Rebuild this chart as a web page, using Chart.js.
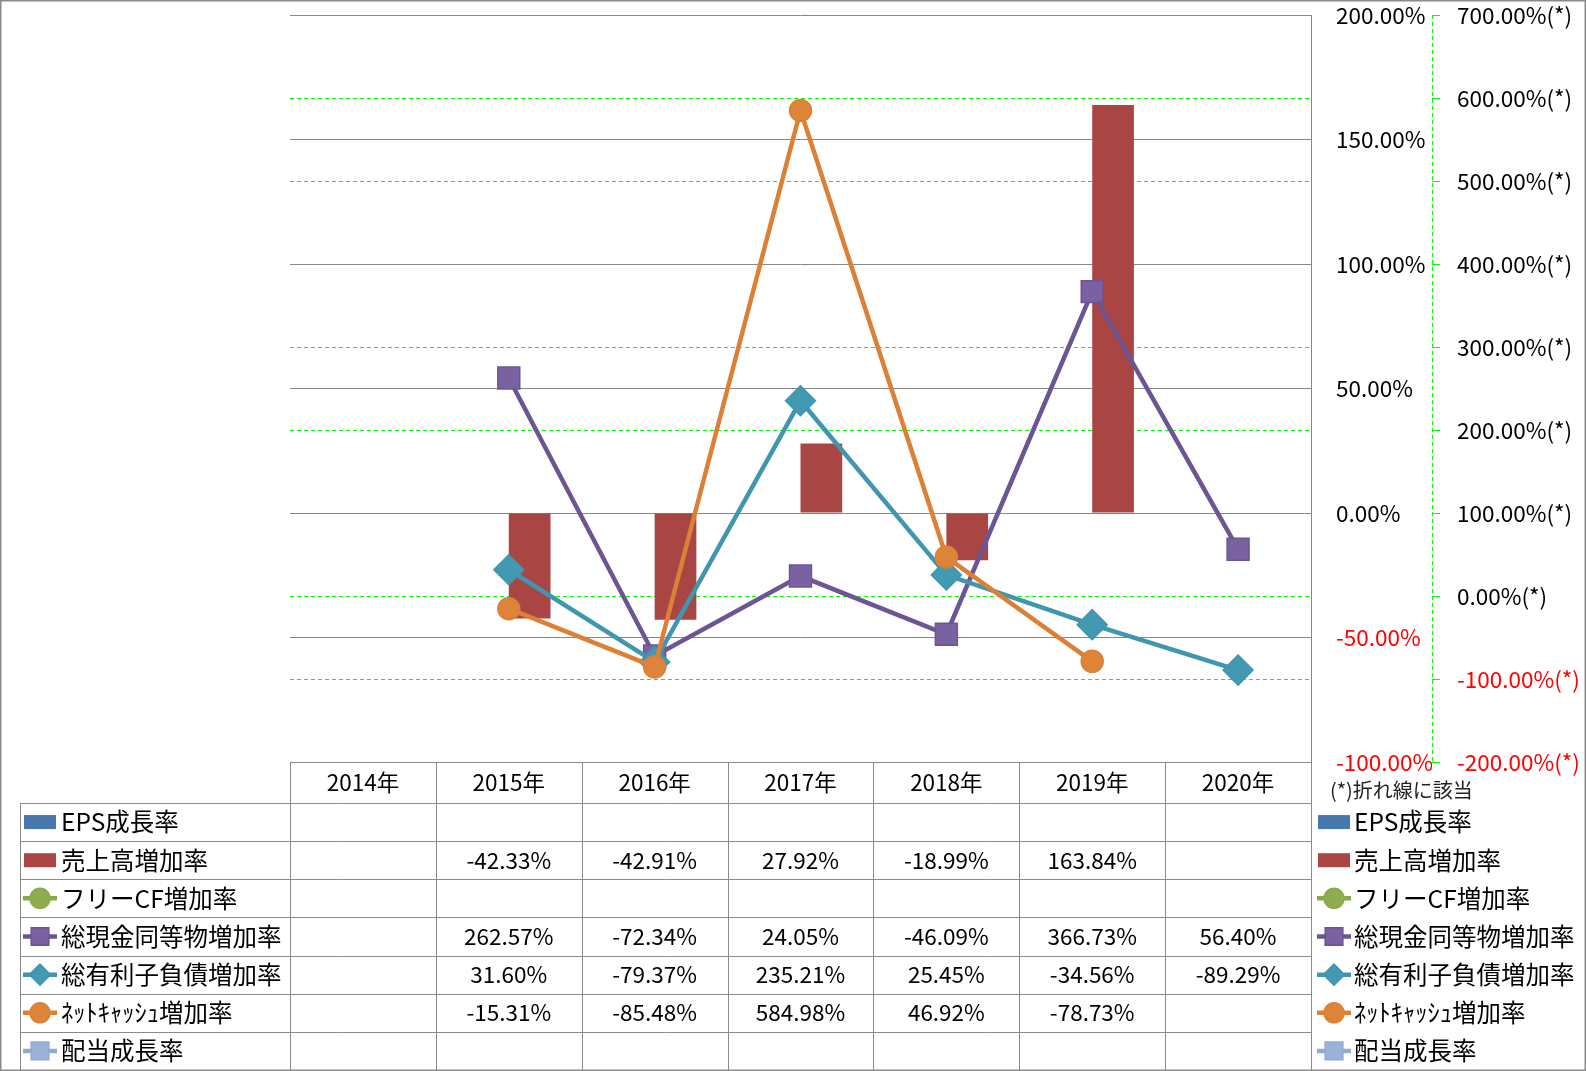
<!DOCTYPE html>
<html>
<head>
<meta charset="utf-8">
<script src="https://cdn.jsdelivr.net/npm/chart.js@4.4.1/dist/chart.umd.min.js"></script>
<style>
html,body{margin:0;padding:0;background:#fff;overflow:hidden}
#wrap{width:1586px;height:1071px;position:relative}
canvas{display:block}
</style>
</head>
<body>
<div id="wrap"><canvas id="c" width="1586" height="1071" style="width:1586px;height:1071px"></canvas></div>
<script>
// ---- data ----
const categories = ['2014年','2015年','2016年','2017年','2018年','2019年','2020年'];
const seriesNames = ['EPS成長率','売上高増加率','フリーCF増加率','総現金同等物増加率','総有利子負債増加率','ﾈｯﾄｷｬｯｼｭ増加率','配当成長率'];
const epsGrowth      = [null, null, null, null, null, null, null];
const salesGrowth    = [null, -42.33, -42.91, 27.92, -18.99, 163.84, null];
const freeCFGrowth   = [null, null, null, null, null, null, null];
const cashGrowth     = [null, 262.57, -72.34, 24.05, -46.09, 366.73, 56.40];
const debtGrowth     = [null, 31.60, -79.37, 235.21, 25.45, -34.56, -89.29];
const netCashGrowth  = [null, -15.31, -85.48, 584.98, 46.92, -78.73, null];
const dividendGrowth = [null, null, null, null, null, null, null];
const primaryAxis   = [-100, 200, 50];   // min, max, step (bars)
const secondaryAxis = [-200, 700, 100];  // min, max, step (lines, "(*)")
const noteText = '(*)折れ線に該当';

// ---- style ----
const FONT = '"Noto Sans CJK JP", "Liberation Sans", sans-serif';
const FS_NUM = 22.5;
const FS_LABEL = 24.5;
const GRID_GRAY = '#868686';
const TABLE_GRAY = '#8a8a8a';

function lineDs(label, data, color, fill, style, r, order) {
  return {type:'line', label, data, yAxisID:'y2', order,
    borderColor:color, backgroundColor:color, borderWidth:4.5, tension:0, spanGaps:false,
    pointStyle:style, pointRadius:r, pointHoverRadius:r,
    pointBackgroundColor:fill, pointBorderColor:color, pointBorderWidth:1.5};
}

const datasets = [
  {type:'bar', label:seriesNames[0], data:epsGrowth, yAxisID:'y', order:20,
   backgroundColor:'#4677AD', barPercentage:1, categoryPercentage:0.572},
  {type:'bar', label:seriesNames[1], data:salesGrowth, yAxisID:'y', order:20,
   backgroundColor:'#A94644', barPercentage:1, categoryPercentage:0.572},
  lineDs(seriesNames[2], freeCFGrowth, '#8BA94B', '#8FAD4F', 'circle', 11, 6),
  lineDs(seriesNames[3], cashGrowth, '#6D5493', '#7A62A0', 'rect', 15.5, 5),
  lineDs(seriesNames[4], debtGrowth, '#3F96AE', '#4399B1', 'rectRot', 15, 4),
  lineDs(seriesNames[5], netCashGrowth, '#DB8036', '#DE8439', 'circle', 11, 3),
  lineDs(seriesNames[6], dividendGrowth, '#92AAD3', '#9AB1D8', 'rect', 15.5, 2)
];

const negRed = (ctx) => (ctx.tick && ctx.tick.value < 0) ? '#FF0000' : '#000000';

const tablePlugin = {
  id: 'tablePlugin',
  beforeDatasetsDraw(chart) {
    const {ctx} = chart;
    const y2 = chart.scales.y2;
    ctx.save();
    ctx.strokeStyle = '#00FF00';
    ctx.lineWidth = 1;
    ctx.setLineDash([4, 3]);
    ctx.beginPath();
    const lx = Math.round(y2.left) + 0.5;
    ctx.moveTo(lx, y2.top);
    ctx.lineTo(lx, y2.bottom);
    ctx.stroke();
    ctx.restore();
  },
  afterDraw(chart) {
    const {ctx, chartArea: area} = chart;
    const xs = chart.scales.x;
    const W = chart.width, H = chart.height;
    const nCol = categories.length;
    const colW = (area.right - area.left) / nCol;
    const headTop = area.bottom;
    const headBottom = xs.bottom;
    const rows = chart.data.datasets;
    const tableBottom = H - 1;
    const rowH = (tableBottom - headBottom) / rows.length;
    const legLeft = 20;
    const px = v => Math.round(v) + 0.5;

    ctx.save();
    ctx.strokeStyle = TABLE_GRAY;
    ctx.lineWidth = 1;
    ctx.setLineDash([]);
    ctx.beginPath();
    ctx.moveTo(area.left, px(headTop)); ctx.lineTo(area.right, px(headTop));
    for (let k = 0; k < rows.length; k++) {
      const yy = px(headBottom + k * rowH);
      ctx.moveTo(legLeft, yy); ctx.lineTo(area.right, yy);
    }
    for (let i = 0; i <= nCol; i++) {
      const xx = px(area.left + i * colW);
      ctx.moveTo(xx, headTop); ctx.lineTo(xx, tableBottom);
    }
    ctx.moveTo(px(legLeft), headBottom); ctx.lineTo(px(legLeft), tableBottom);
    ctx.stroke();

    // outer border
    ctx.lineWidth = 1.5;
    ctx.strokeStyle = '#8a8a8a';
    ctx.strokeRect(0.75, 0.75, W - 1.5, H - 1.5);

    // values
    ctx.fillStyle = '#000';
    ctx.font = FS_NUM + 'px ' + FONT;
    ctx.textAlign = 'center';
    ctx.textBaseline = 'middle';
    rows.forEach((ds, r) => {
      const cy = headBottom + r * rowH + rowH / 2;
      ds.data.forEach((v, j) => {
        if (v === null || v === undefined) return;
        ctx.fillText(v.toFixed(2) + '%', xs.getPixelForValue(j), cy);
      });
    });

    // legends (left column + right box)
    const drawSym = (ds, cx, cy) => {
      if (ds.type === 'bar') {
        ctx.fillStyle = ds.backgroundColor;
        ctx.fillRect(cx - 16, cy - 7, 32, 14);
      } else {
        ctx.strokeStyle = ds.borderColor;
        ctx.lineWidth = 4.5;
        ctx.beginPath();
        ctx.moveTo(cx - 17, cy); ctx.lineTo(cx + 17, cy);
        ctx.stroke();
        ctx.fillStyle = ds.pointBackgroundColor;
        ctx.strokeStyle = ds.pointBorderColor;
        ctx.lineWidth = 1.5;
        const rr = ds.pointStyle === 'rectRot' ? 10.5 : (ds.pointStyle === 'circle' ? 10 : 12.5);
        Chart.helpers.drawPoint(ctx, {pointStyle: ds.pointStyle, radius: rr, rotation: 0, borderWidth: 1.5}, cx, cy);
      }
    };
    rows.forEach((ds, r) => {
      const cy = headBottom + r * rowH + rowH / 2;
      drawSym(ds, 40, cy);
      drawSym(ds, 1334, cy);
      ctx.fillStyle = '#000';
      ctx.font = FS_LABEL + 'px ' + FONT;
      ctx.textAlign = 'left';
      ctx.textBaseline = 'middle';
      ctx.fillText(ds.label, 61, cy);
      ctx.fillText(ds.label, 1354, cy);
    });

    // note
    ctx.fillStyle = '#222';
    ctx.font = '20px ' + FONT;
    ctx.textAlign = 'left';
    ctx.textBaseline = 'middle';
    ctx.fillText(noteText, 1330, 790);
    ctx.restore();
  }
};

const noPad = s => { s.paddingTop = 0; s.paddingBottom = 0; };

new Chart(document.getElementById('c'), {
  type: 'bar',
  data: {labels: categories, datasets},
  plugins: [tablePlugin],
  options: {
    responsive: false,
    animation: false,
    devicePixelRatio: 1,
    layout: {autoPadding: false, padding: {left: 290, top: 15, right: 0, bottom: 268}},
    plugins: {legend: {display: false}, tooltip: {enabled: false}},
    scales: {
      x: {
        offset: true,
        grid: {display: false, drawTicks: false},
        border: {display: false},
        ticks: {color: '#000', font: {family: FONT, size: FS_NUM}, padding: 7, maxRotation: 0, autoSkip: false},
        afterFit: s => { s.height = 41; }
      },
      y: {
        position: 'right',
        min: primaryAxis[0], max: primaryAxis[1],
        grid: {color: GRID_GRAY, lineWidth: 1, drawTicks: false, z: -1},
        border: {display: true, color: GRID_GRAY, width: 1},
        ticks: {stepSize: primaryAxis[2], padding: 25, color: negRed,
                font: {family: FONT, size: FS_NUM},
                callback: v => Number(v).toFixed(2) + '%'},
        afterFit: s => { s.width = 121; noPad(s); }
      },
      y2: {
        position: 'right',
        min: secondaryAxis[0], max: secondaryAxis[1],
        grid: {color: '#00FF00', lineWidth: 1, drawTicks: true, tickLength: 8, tickColor: '#00FF00', z: -2},
        border: {display: false, dash: [4, 3]},
        ticks: {stepSize: secondaryAxis[2], padding: 17, color: negRed,
                font: {family: FONT, size: FS_NUM},
                callback: v => Number(v).toFixed(2) + '%(*)'},
        afterFit: s => { s.width = 154; noPad(s); }
      }
    }
  }
});
</script>
</body>
</html>
